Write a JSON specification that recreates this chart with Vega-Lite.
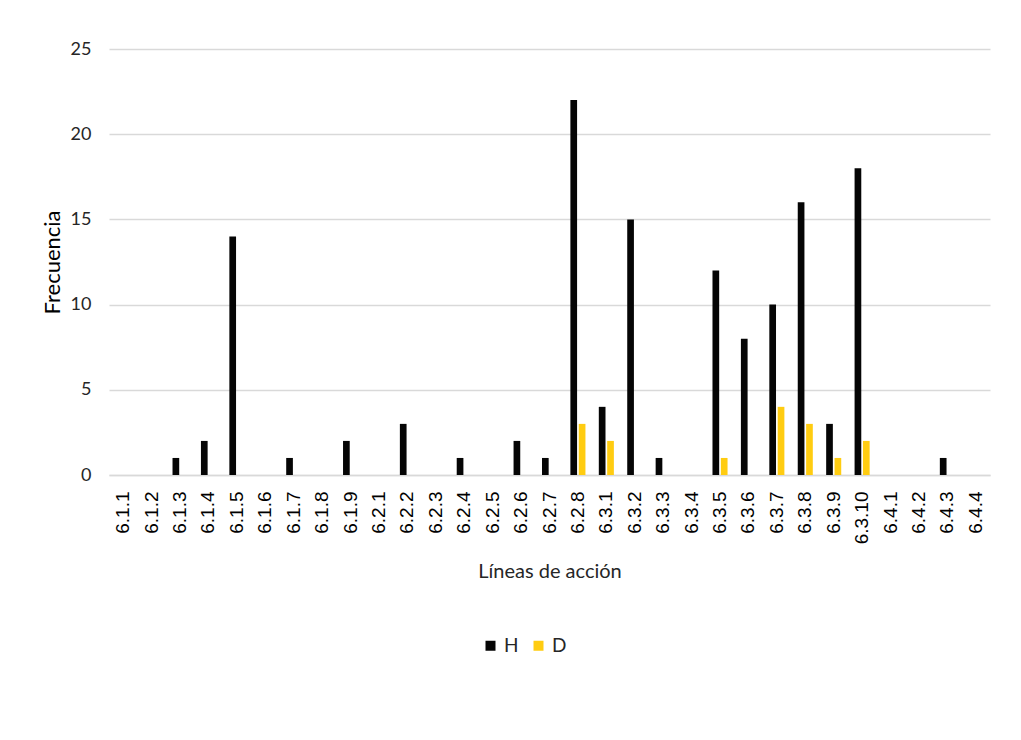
{
  "$schema": "https://vega.github.io/schema/vega-lite/v6.json",
  "width": 881,
  "height": 426,
  "autosize": {"type": "none"},
  "padding": {"left": 109, "top": 49, "right": 31, "bottom": 265},
  "background": "white",
  "data": {
    "values": [
      {"linea": "6.1.1", "serie": "H", "frecuencia": 0},
      {"linea": "6.1.2", "serie": "H", "frecuencia": 0},
      {"linea": "6.1.3", "serie": "H", "frecuencia": 1},
      {"linea": "6.1.4", "serie": "H", "frecuencia": 2},
      {"linea": "6.1.5", "serie": "H", "frecuencia": 14},
      {"linea": "6.1.6", "serie": "H", "frecuencia": 0},
      {"linea": "6.1.7", "serie": "H", "frecuencia": 1},
      {"linea": "6.1.8", "serie": "H", "frecuencia": 0},
      {"linea": "6.1.9", "serie": "H", "frecuencia": 2},
      {"linea": "6.2.1", "serie": "H", "frecuencia": 0},
      {"linea": "6.2.2", "serie": "H", "frecuencia": 3},
      {"linea": "6.2.3", "serie": "H", "frecuencia": 0},
      {"linea": "6.2.4", "serie": "H", "frecuencia": 1},
      {"linea": "6.2.5", "serie": "H", "frecuencia": 0},
      {"linea": "6.2.6", "serie": "H", "frecuencia": 2},
      {"linea": "6.2.7", "serie": "H", "frecuencia": 1},
      {"linea": "6.2.8", "serie": "H", "frecuencia": 22},
      {"linea": "6.3.1", "serie": "H", "frecuencia": 4},
      {"linea": "6.3.2", "serie": "H", "frecuencia": 15},
      {"linea": "6.3.3", "serie": "H", "frecuencia": 1},
      {"linea": "6.3.4", "serie": "H", "frecuencia": 0},
      {"linea": "6.3.5", "serie": "H", "frecuencia": 12},
      {"linea": "6.3.6", "serie": "H", "frecuencia": 8},
      {"linea": "6.3.7", "serie": "H", "frecuencia": 10},
      {"linea": "6.3.8", "serie": "H", "frecuencia": 16},
      {"linea": "6.3.9", "serie": "H", "frecuencia": 3},
      {"linea": "6.3.10", "serie": "H", "frecuencia": 18},
      {"linea": "6.4.1", "serie": "H", "frecuencia": 0},
      {"linea": "6.4.2", "serie": "H", "frecuencia": 0},
      {"linea": "6.4.3", "serie": "H", "frecuencia": 1},
      {"linea": "6.4.4", "serie": "H", "frecuencia": 0},
      {"linea": "6.2.8", "serie": "D", "frecuencia": 3},
      {"linea": "6.3.1", "serie": "D", "frecuencia": 2},
      {"linea": "6.3.5", "serie": "D", "frecuencia": 1},
      {"linea": "6.3.7", "serie": "D", "frecuencia": 4},
      {"linea": "6.3.8", "serie": "D", "frecuencia": 3},
      {"linea": "6.3.9", "serie": "D", "frecuencia": 1},
      {"linea": "6.3.10", "serie": "D", "frecuencia": 2}
    ]
  },
  "mark": {"type": "bar"},
  "encoding": {
    "x": {
      "field": "linea",
      "type": "nominal",
      "sort": null,
      "scale": {"paddingInner": 0.47, "paddingOuter": 0.235},
      "axis": {
        "title": "Líneas de acción",
        "labelAngle": -90,
        "labelFont": "Liberation Sans",
        "labelFontSize": 19,
        "labelColor": "#000000",
        "labelPadding": 16,
        "ticks": false,
        "domainColor": "#d9d9d9",
        "domainWidth": 1.5,
        "titleFont": "Lato",
        "titleFontSize": 20,
        "titleFontWeight": "normal",
        "titleColor": "#262626",
        "titlePadding": 18
      }
    },
    "xOffset": {
      "field": "serie",
      "type": "nominal",
      "sort": ["H", "D"],
      "scale": {"paddingInner": 0.2}
    },
    "y": {
      "field": "frecuencia",
      "type": "quantitative",
      "scale": {"domain": [0, 25]},
      "axis": {
        "title": "Frecuencia",
        "values": [0, 5, 10, 15, 20, 25],
        "labelFont": "Lato",
        "labelFontSize": 18,
        "labelColor": "#262626",
        "labelPadding": 18,
        "ticks": false,
        "domain": false,
        "grid": true,
        "gridColor": "#d9d9d9",
        "gridWidth": 1.5,
        "titleFont": "Lato",
        "titleFontSize": 22,
        "titleFontWeight": "normal",
        "titleColor": "#000000",
        "titlePadding": 6
      }
    },
    "color": {
      "field": "serie",
      "type": "nominal",
      "sort": ["H", "D"],
      "scale": {"domain": ["H", "D"], "range": ["#050505", "#ffcc11"]},
      "legend": {
        "title": null,
        "orient": "none",
        "direction": "horizontal",
        "legendX": 372,
        "legendY": 587,
        "symbolType": "square",
        "symbolSize": 100,
        "symbolStrokeWidth": 0,
        "labelFont": "Lato",
        "labelFontSize": 19,
        "labelColor": "#262626",
        "columnPadding": 10
      }
    }
  },
  "config": {
    "view": {"stroke": null}
  }
}
